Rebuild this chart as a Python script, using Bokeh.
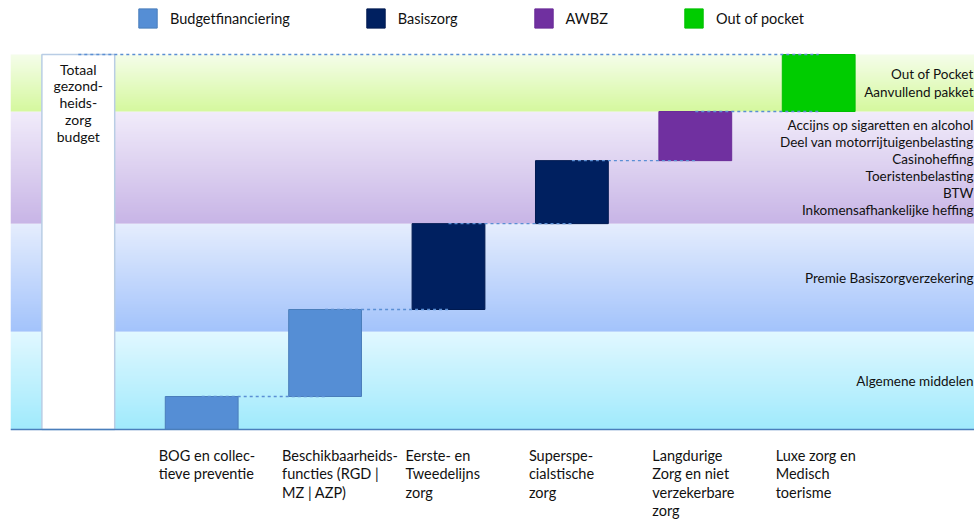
import numpy as np
from bokeh.plotting import figure
from bokeh.models import ColumnDataSource, Range1d, Span, Legend, LegendItem
from bokeh.core.properties import value
from bokeh.embed import file_html
from bokeh.resources import INLINE

# ---------------- data ----------------
total_label = "Totaal\ngezond-\nheids-\nzorg\nbudget"
step_labels = [
    "BOG en collec-\ntieve preventie",
    "Beschikbaarheids-\nfuncties (RGD |\nMZ | AZP)",
    "Eerste- en\nTweedelijns\nzorg",
    "Superspe-\ncialstische\nzorg",
    "Langdurige\nZorg en niet\nverzekerbare\nzorg",
    "Luxe zorg en\nMedisch\ntoerisme",
]
step_values = [8.8, 23.2, 22.9, 16.8, 13.1, 15.2]
step_funding = ["Budgetfinanciering", "Budgetfinanciering", "Basiszorg",
                "Basiszorg", "AWBZ", "Out of pocket"]
funding_names = ["Budgetfinanciering", "Basiszorg", "AWBZ", "Out of pocket"]
band_values = [26.1, 28.8, 29.9, 15.2]
band_labels = [
    "Algemene middelen",
    "Premie Basiszorgverzekering",
    "Accijns op sigaretten en alcohol\nDeel van motorrijtuigenbelasting\nCasinoheffing\nToeristenbelasting\nBTW\nInkomensafhankelijke heffing",
    "Out of Pocket\nAanvullend pakket",
]

# ---------------- styles ----------------
FONT = "Lato"
funding_colors = {"Budgetfinanciering": "#558ed5", "Basiszorg": "#002060",
                  "AWBZ": "#7030a0", "Out of pocket": "#00cc00"}
funding_lines = {"Budgetfinanciering": "#4a7ebb", "Basiszorg": "#001a50",
                 "AWBZ": "#6a2c98", "Out of pocket": "#00c000"}
band_grad = [("#a0eafc", "#e2f8ff"), ("#a3c3fb", "#e5edfd"),
             ("#c8b5e6", "#f1ecfa"), ("#d5f89e", "#f5fdea")]  # (bottom, top)

x0, x1 = -0.5494, 7.2626
p = figure(width=974, height=520, x_range=Range1d(x0, x1),
           y_range=Range1d(-91 / 3.75, 429 / 3.75),
           x_axis_type=None, y_axis_type=None, toolbar_location=None,
           output_backend="svg", min_border_left=10, min_border_right=0,
           min_border_top=0, min_border_bottom=0)
p.outline_line_color = None
p.grid.visible = False
p.background_fill_color = "white"


def hex2rgb(h):
    return np.array([int(h[i:i + 2], 16) for i in (1, 3, 5)], dtype=float)


# background bands (vertical gradient images)
bb = 0.0
for val, (cb, ct) in zip(band_values, band_grad):
    n = 100
    t = np.linspace(0, 1, n)[:, None]
    rgb = hex2rgb(cb)[None, :] * (1 - t) + hex2rgb(ct)[None, :] * t
    img = np.zeros((n, 1, 4), dtype=np.uint8)
    img[:, 0, :3] = np.round(rgb).astype(np.uint8)
    img[:, 0, 3] = 255
    p.image_rgba(image=[img.view(np.uint32).reshape(n, 1)], x=x0, y=bb,
                 dw=x1 - x0, dh=val)
    bb += val

# band labels on the right
cum_b = np.cumsum(band_values)
band_mid = cum_b - np.array(band_values) / 2
p.text(x=[x1] * len(band_labels), y=list(band_mid), text=band_labels,
       text_align="right", text_baseline="middle", x_offset=-1,
       text_font=value(FONT), text_font_size="13.5px", text_color="#111111",
       text_line_height=1.07)

# waterfall bars
total = sum(step_values)
tops = np.cumsum(step_values)
bottoms = tops - np.array(step_values)
xs = list(range(1, len(step_values) + 1))

p.vbar(x=[0], bottom=[0], top=[total], width=0.59, fill_color="white",
       line_color="#b9cde5", line_width=1.5)

src = ColumnDataSource(dict(
    x=xs, bottom=list(bottoms), top=list(tops),
    fill=[funding_colors[f] for f in step_funding],
    line=[funding_lines[f] for f in step_funding]))
bars = p.vbar(x="x", bottom="bottom", top="top", width=0.59, source=src,
              fill_color="fill", line_color="line", line_width=1)

# dashed connectors
cx0 = [0] + xs[:-1]
cx1 = [xs[-1]] + xs[1:]
cy = [total] + list(tops[:-1])
p.segment(x0=cx0, y0=cy, x1=cx1, y1=cy, line_color="#5b8fd4",
          line_width=1.3, line_dash="3 3")

# baseline axis line
p.add_layout(Span(location=0, dimension="width", line_color="#4a7ebb",
                  line_width=1.5))

# total label
p.text(x=[0], y=[total], text=[total_label], text_align="center",
       text_baseline="top", y_offset=6, text_font=value(FONT),
       text_font_size="14px", text_color="#111111", text_line_height=0.99)

# category labels
p.text(x=xs, y=[0] * len(xs), text=step_labels, text_align="left",
       text_baseline="top", x_offset=-43, y_offset=17, text_font=value(FONT),
       text_font_size="14.5px", text_color="#111111", text_line_height=1.09)

# legend
items = []
for name in funding_names:
    idx = step_funding.index(name)
    items.append(LegendItem(label=name, renderers=[bars], index=idx))
legend = Legend(items=items, orientation="horizontal", location=(126, 490),
                glyph_width=23, glyph_height=24, label_standoff=11, spacing=74,
                padding=0, margin=0, border_line_alpha=0,
                background_fill_alpha=0, label_text_font=FONT,
                label_text_font_size="14.5px", label_text_color="#111111")
p.add_layout(legend)

open("out.html", "w").write(file_html(p, INLINE))
